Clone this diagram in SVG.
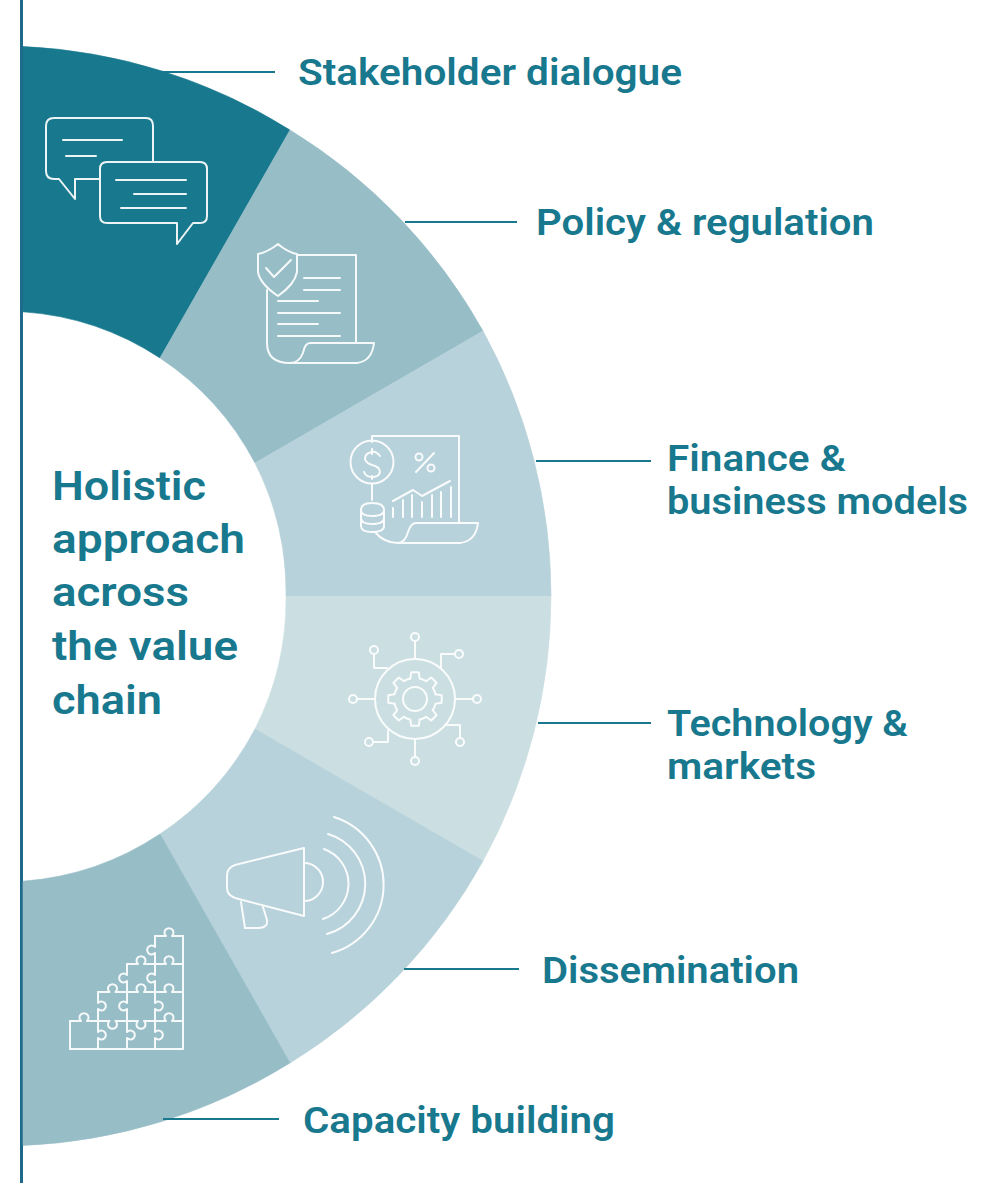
<svg xmlns="http://www.w3.org/2000/svg" width="996" height="1183" viewBox="0 0 996 1183">
<style>
.lb{font-family:"Roboto","Liberation Sans",sans-serif;font-weight:600;font-size:37px;fill:#18788e}
.ct{font-size:41px}
.ic{fill:none;stroke:#fff;stroke-width:2;stroke-linejoin:round;stroke-linecap:round;opacity:.92}
.ld{stroke:#18788e;stroke-width:2;fill:none}
.s{stroke-width:.6}
</style>
<defs><path id="tooth" d="M-4.700 -20.500L-3.800 -26.700H3.800L4.700 -20.500A21 21 0 0 1 11.100 -17.800"/></defs>
<rect width="996" height="1183" fill="#fff"/>
<rect x="20" y="0" width="3" height="1183" fill="#1f6a8a"/>
<g id="seg-stakeholder"><path class="s" d="M23 46.500A550 550 0 0 1 290 130L160 358A285 285 0 0 0 23 311.800Z" fill="#18788e" stroke="#18788e"/>
<g class="ic"><path d="M100 179H75V199L59 179H54Q46 179 46 171V126Q46 118 54 118H146Q153 118 153 126V162"/><path d="M63 140H122M66 156H96"/>
<path d="M107 162H200Q207 162 207 169V216Q207 223 200 223H193L177 244V223H107Q100 223 100 216V169Q100 162 107 162Z"/><path d="M116 180H186M134 194H186M121 208H186"/></g></g>
<g id="seg-policy"><path class="s" d="M290 130A550 550 0 0 1 483 331L255 463A285 285 0 0 0 160 358Z" fill="#97bdc7" stroke="#97bdc7"/>
<g class="ic"><path d="M278 244Q268 252 258 254V272Q260 284 278 296Q295 284 297 272V254Q287 252 278 244Z"/><path d="M266 268L274 277L291 260"/><path d="M297 255H356V343M267 290V343Q267 363 290 363H357Q372 361 374 343H310Q305 343 303 353Q299 363 290 363"/><path d="M304 278H340M304 290H340M278 301H318M278 313H340M278 324H318M278 336H340"/></g></g>
<g id="seg-finance"><path class="s" d="M255 463L483 331A550 550 0 0 1 551 596H286A285 285 0 0 0 255 463Z" fill="#b7d2da" stroke="#b7d2da"/>
<g class="ic"><path d="M372 442V436H459V522"/><circle cx="372" cy="462" r="21.500"/><path d="M380 456Q376 451 372 452Q365 453 365 459Q366 463 372 465Q380 467 380 472Q379 477 372 477Q366 477 364 472M372 449V454M372 476V479M372 484V500"/>
<path d="M416 472L434 453"/><circle cx="419" cy="457" r="3.500"/><circle cx="431" cy="468" r="3.500"/>
<path d="M393 501L413 490L422 496L450 481M393 508V517M403 500V517M412 495V517M422 502V517M432 495V517M441 492V517M451 487V517"/>
<path d="M361 510Q361 503 372 503Q384 503 384 510V526Q384 532 372 532Q361 532 361 526ZM361 510Q361 516 372 516Q384 516 384 510M361 518Q361 524 372 524Q384 524 384 518"/>
<path d="M375 532Q384 543 398 543H460Q476 541 478 523H416Q411 523 408 532Q405 543 398 543"/></g></g>
<g id="seg-technology"><path class="s" d="M286 596H551A550 550 0 0 1 483 861L255 729A285 285 0 0 0 286 596Z" fill="#cbdfe3" stroke="#cbdfe3"/>
<g class="ic"><circle cx="415" cy="699" r="40"/><circle cx="415" cy="699" r="12"/>
<g transform="translate(415 699)"><use href="#tooth"/><use href="#tooth" transform="rotate(45)"/><use href="#tooth" transform="rotate(90)"/><use href="#tooth" transform="rotate(135)"/><use href="#tooth" transform="rotate(180)"/><use href="#tooth" transform="rotate(225)"/><use href="#tooth" transform="rotate(270)"/><use href="#tooth" transform="rotate(315)"/></g>
<path d="M415 641V659M357 699H375M455 699H473M415 739V757M374 654V668H387M455 654H441V668M460 738V725H446M373 742H388V730"/>
<circle cx="415" cy="637" r="4"/><circle cx="374" cy="650" r="4"/><circle cx="459" cy="654" r="4"/><circle cx="353" cy="699" r="4"/><circle cx="477" cy="699" r="4"/><circle cx="369" cy="742" r="4"/><circle cx="460" cy="742" r="4"/><circle cx="415" cy="761" r="4"/></g></g>
<g id="seg-dissemination"><path class="s" d="M255 729L483 861A550 550 0 0 1 290 1063L160 834A285 285 0 0 0 255 729Z" fill="#b7d2da" stroke="#b7d2da"/>
<g class="ic"><path d="M304 848V916L235 898Q227 895 227 888V875Q227 868 235 865Z"/><path d="M304 863A19 19 0 0 1 304 901M241 902L245 928H258Q268 928 267 920L263 907"/><path d="M324 849A37 37 0 0 1 323 919M328 834A52 52 0 0 1 327 934M334 817A71 71 0 0 1 332 953"/></g></g>
<g id="seg-capacity"><path class="s" d="M23 881.200A285 285 0 0 0 160 834L290 1063A550 550 0 0 1 23 1145.500Z" fill="#97bdc7" stroke="#97bdc7"/>
<g class="ic" transform="translate(1 0)"><path d="M69 1049H182V936"/><path d="M154 936H165a4.500 4.500 0 1 1 6 0H182"/>
<path d="M126 964H137a4.500 4.500 0 1 1 6 0H154H165a4.500 4.500 0 1 1 6 0H182"/>
<path d="M97 992H108.500a4.500 4.500 0 1 1 6 0H126H137a4.500 4.500 0 1 1 6 0H154H165a4.500 4.500 0 1 1 6 0H182"/>
<path d="M69 1021H80a4.500 4.500 0 1 1 6 0H97H108.500a4.500 4.500 0 1 0 6 0H126H137a4.500 4.500 0 1 0 6 0H154H165a4.500 4.500 0 1 1 6 0H182"/>
<path d="M154 936V947a4.500 4.500 0 1 0 0 6V964V975a4.500 4.500 0 1 0 0 6V992V1003a4.500 4.500 0 1 1 0 6V1021V1032a4.500 4.500 0 1 1 0 6V1049"/>
<path d="M126 964V975a4.500 4.500 0 1 0 0 6V992V1003a4.500 4.500 0 1 0 0 6V1021V1032a4.500 4.500 0 1 1 0 6V1049"/>
<path d="M97 992V1003a4.500 4.500 0 1 1 0 6V1021V1032a4.500 4.500 0 1 1 0 6V1049"/>
<path d="M69 1021V1049"/></g></g>
<g id="connectors"><path class="ld" d="M162 72H275M405 222H517M536 461H651M538 723H651M404 969H519M163 1119H279"/></g>
<g id="labels">
<text class="lb" x="298" y="85" textLength="384" lengthAdjust="spacingAndGlyphs">Stakeholder dialogue</text>
<text class="lb" x="536" y="235" textLength="338" lengthAdjust="spacingAndGlyphs">Policy &amp; regulation</text>
<text class="lb" x="667" y="471" textLength="179" lengthAdjust="spacingAndGlyphs">Finance &amp;</text>
<text class="lb" x="667" y="514" textLength="301" lengthAdjust="spacingAndGlyphs">business models</text>
<text class="lb" x="667" y="736" textLength="241" lengthAdjust="spacingAndGlyphs">Technology &amp;</text>
<text class="lb" x="667" y="779" textLength="149" lengthAdjust="spacingAndGlyphs">markets</text>
<text class="lb" x="542" y="983" textLength="257" lengthAdjust="spacingAndGlyphs">Dissemination</text>
<text class="lb" x="303" y="1133" textLength="312" lengthAdjust="spacingAndGlyphs">Capacity building</text>
<text class="lb ct" x="52" y="500" textLength="154" lengthAdjust="spacingAndGlyphs">Holistic</text>
<text class="lb ct" x="52" y="553" textLength="193" lengthAdjust="spacingAndGlyphs">approach</text>
<text class="lb ct" x="52" y="606" textLength="137" lengthAdjust="spacingAndGlyphs">across</text>
<text class="lb ct" x="52" y="660" textLength="186" lengthAdjust="spacingAndGlyphs">the value</text>
<text class="lb ct" x="52" y="714" textLength="110" lengthAdjust="spacingAndGlyphs">chain</text>
</g>
</svg>
